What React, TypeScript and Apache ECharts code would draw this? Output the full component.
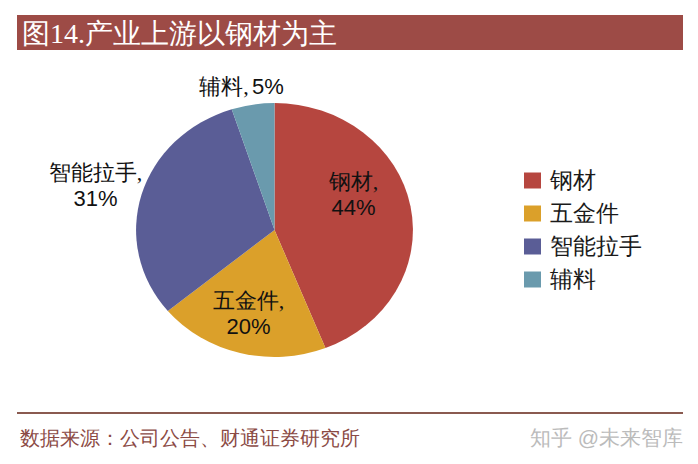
import React, { useEffect, useRef } from "react";
import * as echarts from "echarts";

const categories = ["钢材", "五金件", "智能拉手", "辅料"];
const shares = [44, 20, 31, 5];
const colors = ["#B6463F", "#DBA02A", "#5A5D96", "#6A9AAD"];
const titleText = "图14.产业上游以钢材为主";
const sourceText = "数据来源：公司公告、财通证券研究所";
const watermark = "知乎 @未来智库";

// layout (not data)
const CX = 274.5;
const CY = 230;
const R = 127;
const SX = 1.09;
const labelOffsets = [
  [79, -36],
  [-26, 83],
  [-179, -45],
  [-33, -144],
];
const labelOneLine = [false, false, false, true];

const total = shares.reduce((a, b) => a + b, 0);
const cumStart: number[] = [];
shares.reduce((acc, v, i) => {
  cumStart[i] = acc;
  return acc + v;
}, 0);

export default function App() {
  const ref = useRef<HTMLDivElement>(null);
  useEffect(() => {
    document.body.style.margin = "0";
    const chart = echarts.init(ref.current!, undefined, { renderer: "svg" });
    const series = categories.map((name, i) => ({
      type: "custom",
      name,
      coordinateSystem: "none",
      data: [[shares[i]]],
      renderItem: (params: any, api: any) => {
        const v = api.value(0);
        const start = -Math.PI / 2 + (cumStart[i] / total) * Math.PI * 2;
        const end = start + (v / total) * Math.PI * 2;
        const color = api.visual("color");
        const pct = Math.round((v / total) * 100) + "%";
        const txt = labelOneLine[i]
          ? `{n|${name},} {p|${pct}}`
          : `{n|${name},}\n{p|${pct}}`;
        return {
          type: "group",
          children: [
            {
              type: "group",
              x: CX,
              y: CY,
              scaleX: SX,
              children: [
                {
                  type: "sector",
                  shape: { cx: 0, cy: 0, r: R, r0: 0, startAngle: start, endAngle: end, clockwise: true },
                  style: { fill: color },
                },
              ],
            },
            {
              type: "text",
              x: CX + labelOffsets[i][0],
              y: CY + labelOffsets[i][1],
              style: {
                text: txt,
                align: "center",
                verticalAlign: "middle",
                fill: "#111",
                rich: {
                  n: { fontSize: 22, fontFamily: "serif", fill: "#111", lineHeight: 26 },
                  p: { fontSize: 22, fontFamily: "Liberation Sans, Arial, sans-serif", fill: "#111", lineHeight: 26 },
                },
              },
            },
          ],
        };
      },
    }));
    chart.setOption({
      animation: false,
      color: colors,
      legend: {
        orient: "vertical",
        left: 519,
        top: 164,
        icon: "rect",
        itemWidth: 17,
        itemHeight: 16,
        itemGap: 10,
        data: categories,
        selectedMode: false,
        textStyle: { fontSize: 23, lineHeight: 23, fontFamily: "serif", color: "#1a1a1a", padding: [0, 0, 0, 4] },
      },
      graphic: [
        { type: "rect", shape: { x: 17, y: 15, width: 666, height: 35 }, style: { fill: "#9D4B46" } },
        {
          type: "text",
          x: 22,
          y: 33,
          style: { text: titleText, fill: "#fff", fontSize: 28, fontFamily: "serif", verticalAlign: "middle" },
        },
        { type: "line", shape: { x1: 17, y1: 413, x2: 683, y2: 413 }, style: { stroke: "#8A5A50", lineWidth: 2 } },
        {
          type: "text",
          x: 20,
          y: 438,
          style: { text: sourceText, fill: "#8B4A44", fontSize: 20, fontFamily: "serif", verticalAlign: "middle" },
        },
        {
          type: "text",
          x: 683,
          y: 437,
          style: { text: watermark, fill: "#BBBBBB", fontSize: 21, fontFamily: "sans-serif", align: "right", verticalAlign: "middle" },
        },
      ],
      series,
    });
    return () => chart.dispose();
  }, []);
  return <div ref={ref} style={{ width: 698, height: 464 }} />;
}
